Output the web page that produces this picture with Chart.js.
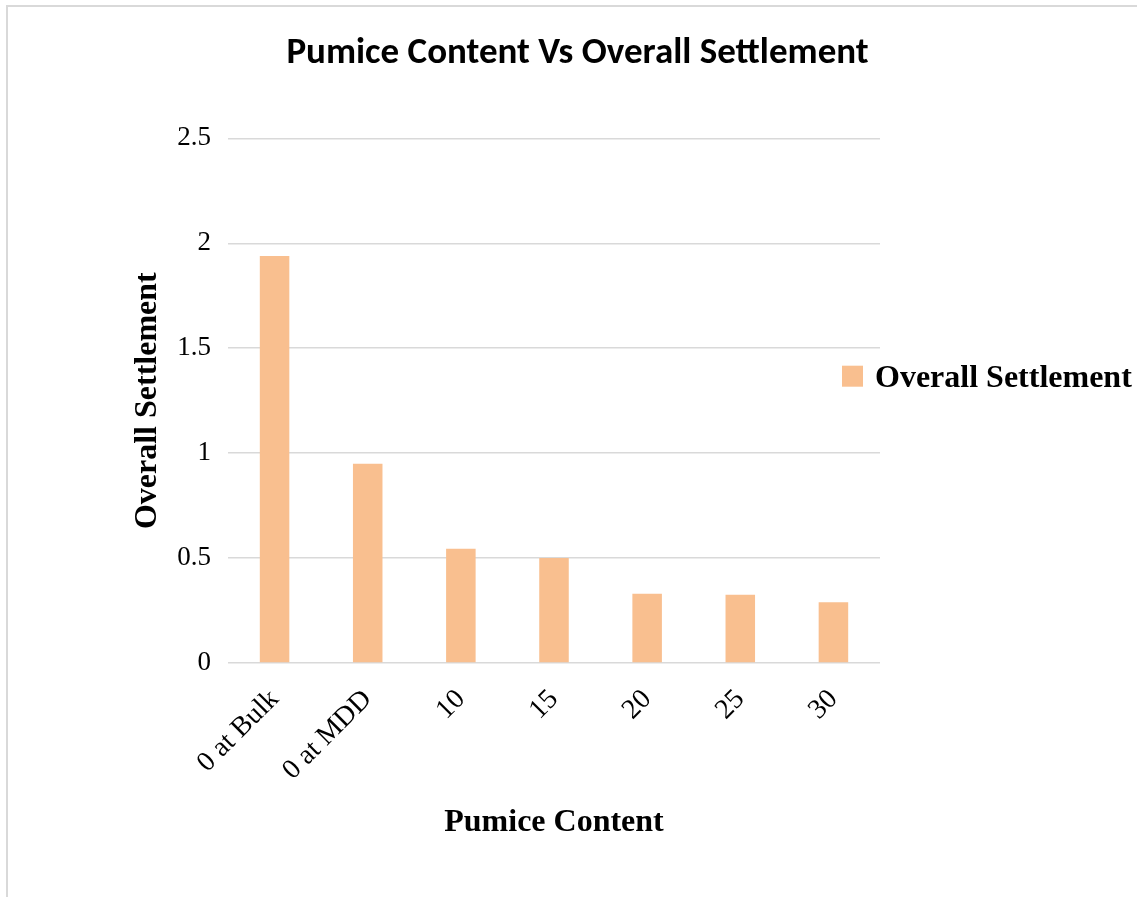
<!DOCTYPE html>
<html>
<head>
<meta charset="utf-8">
<title>Pumice Content Vs Overall Settlement</title>
<script src="https://cdn.jsdelivr.net/npm/chart.js@4/dist/chart.umd.min.js"></script>
<style>
  html, body { margin: 0; padding: 0; background: #ffffff; }
  #wrap { width: 1137px; height: 897px; }
</style>
</head>
<body>
<div id="wrap"><canvas id="chart" width="1137" height="897"></canvas></div>
<script>
// Chart data
const categories = ['0 at Bulk', '0 at MDD', '10', '15', '20', '25', '30'];
const settlementValues = [1.94, 0.95, 0.545, 0.5, 0.33, 0.325, 0.29];
const yTickValues = [0, 0.5, 1, 1.5, 2, 2.5];
const yTickLabels = ['0', '0.5', '1', '1.5', '2', '2.5'];
const seriesName = 'Overall Settlement';
const chartTitle = 'Pumice Content Vs Overall Settlement';
const xAxisTitle = 'Pumice Content';
const yAxisTitle = 'Overall Settlement';

const BAR_COLOR = '#F9BF8F';
const GRID_COLOR = '#d9d9d9';
const SERIF = "'Liberation Serif', 'Times New Roman', serif";

// Light frame around the chart
const framePlugin = {
  id: 'frame',
  beforeDraw(chart) {
    const ctx = chart.ctx;
    ctx.save();
    ctx.fillStyle = '#ffffff';
    ctx.fillRect(0, 0, chart.width, chart.height);
    ctx.strokeStyle = '#d9d9d9';
    ctx.lineWidth = 2;
    ctx.strokeRect(7, 6, chart.width + 20, chart.height + 20);
    ctx.restore();
  }
};

// Series key drawn at the right of the plot
const sideLegendPlugin = {
  id: 'sideLegend',
  afterDraw(chart) {
    const ctx = chart.ctx;
    const area = chart.chartArea;
    const ds = chart.data.datasets[0];
    const cy = (area.top + area.bottom) / 2 - 24;
    const bx = area.right - 38;
    ctx.save();
    ctx.fillStyle = ds.backgroundColor;
    ctx.fillRect(bx, cy - 11, 21, 21);
    ctx.fillStyle = '#000000';
    ctx.font = 'bold 32px ' + SERIF;
    ctx.textBaseline = 'middle';
    ctx.textAlign = 'left';
    ctx.fillText(ds.label, bx + 33, cy + 2);
    ctx.restore();
  }
};

new Chart(document.getElementById('chart'), {
  type: 'bar',
  data: {
    labels: categories,
    datasets: [{
      label: seriesName,
      data: settlementValues,
      backgroundColor: BAR_COLOR,
      borderWidth: 0,
      categoryPercentage: 0.317,
      barPercentage: 1.0
    }]
  },
  options: {
    responsive: false,
    animation: false,
    devicePixelRatio: 1,
    layout: { padding: { left: 18, right: 0, top: 0, bottom: 53 } },
    plugins: {
      legend: { display: false },
      tooltip: { enabled: false },
      title: {
        display: true,
        text: chartTitle,
        color: '#000000',
        font: { family: "Carlito, Lato, 'Open Sans', sans-serif", size: 37, weight: 'bold' },
        padding: { top: 32, bottom: 62 }
      }
    },
    scales: {
      x: {
        grid: { display: false },
        border: { display: false },
        ticks: {
          color: '#000000',
          font: { family: SERIF, size: 28 },
          minRotation: 45,
          maxRotation: 45,
          padding: 12
        },
        title: {
          display: true,
          text: xAxisTitle,
          color: '#000000',
          font: { family: SERIF, size: 32, weight: 'bold' },
          padding: { top: 4, bottom: 2 }
        },
        afterFit(scale) { scale.height = 181; }
      },
      y: {
        min: 0,
        max: 2.5,
        grid: { color: GRID_COLOR, lineWidth: 1.5, drawTicks: false },
        border: { display: false },
        afterBuildTicks(scale) { scale.ticks = yTickValues.map(v => ({ value: v })); },
        ticks: {
          color: '#000000',
          font: { family: SERIF, size: 27 },
          padding: 17,
          callback(value) {
            const i = yTickValues.indexOf(value);
            return i >= 0 ? yTickLabels[i] : '';
          }
        },
        title: {
          display: true,
          text: yAxisTitle,
          color: '#000000',
          font: { family: SERIF, size: 32, weight: 'bold' },
          padding: { top: 111, bottom: 4 }
        },
        afterFit(scale) { scale.width = 210; }
      },
      keySpace: {
        type: 'linear',
        position: 'right',
        display: true,
        grid: { display: false },
        border: { display: false },
        ticks: { display: false },
        afterFit(scale) { scale.width = 257; }
      }
    }
  },
  plugins: [framePlugin, sideLegendPlugin]
});
</script>
</body>
</html>
